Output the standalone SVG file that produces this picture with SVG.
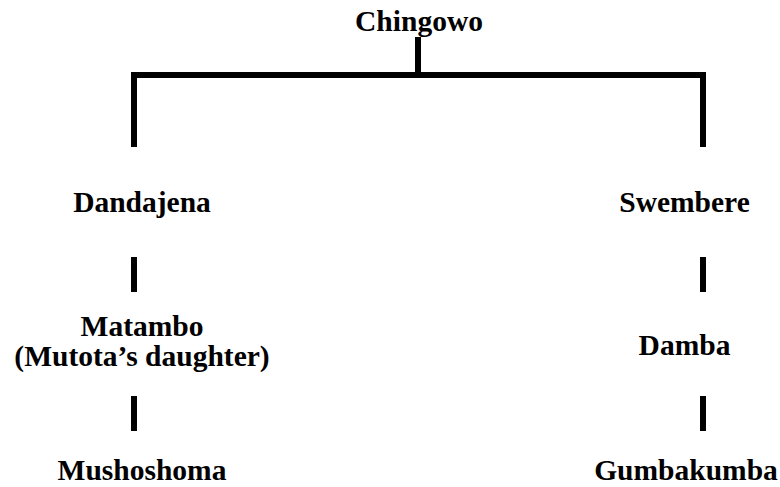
<svg xmlns="http://www.w3.org/2000/svg" width="780" height="487" viewBox="0 0 780 487">
<style>
text{font-family:"Liberation Serif","Times New Roman",serif;font-weight:bold;font-size:29.5px;fill:#000;text-anchor:middle}
.ln{stroke:#000;stroke-width:6;fill:none;stroke-linecap:butt}
</style>
<rect width="780" height="487" fill="#fff"/>
<g id="connectors">
<path class="ln" d="M418 37V75"/>
<path class="ln" d="M134 147V75H703V147"/>
<path class="ln" d="M134 257V292"/>
<path class="ln" d="M703 257V292"/>
<path class="ln" d="M134 396V431"/>
<path class="ln" d="M703 396V431"/>
</g>
<g id="chingowo"><text x="419" y="31">Chingowo</text></g>
<g id="dandajena"><text x="142" y="212">Dandajena</text></g>
<g id="swembere"><text x="684.5" y="212">Swembere</text></g>
<g id="matambo"><text x="142" y="336">Matambo</text><text x="142" y="366">(Mutota’s daughter)</text></g>
<g id="damba"><text x="684.5" y="355">Damba</text></g>
<g id="mushoshoma"><text x="142" y="480">Mushoshoma</text></g>
<g id="gumbakumba"><text x="686" y="480">Gumbakumba</text></g>
</svg>
